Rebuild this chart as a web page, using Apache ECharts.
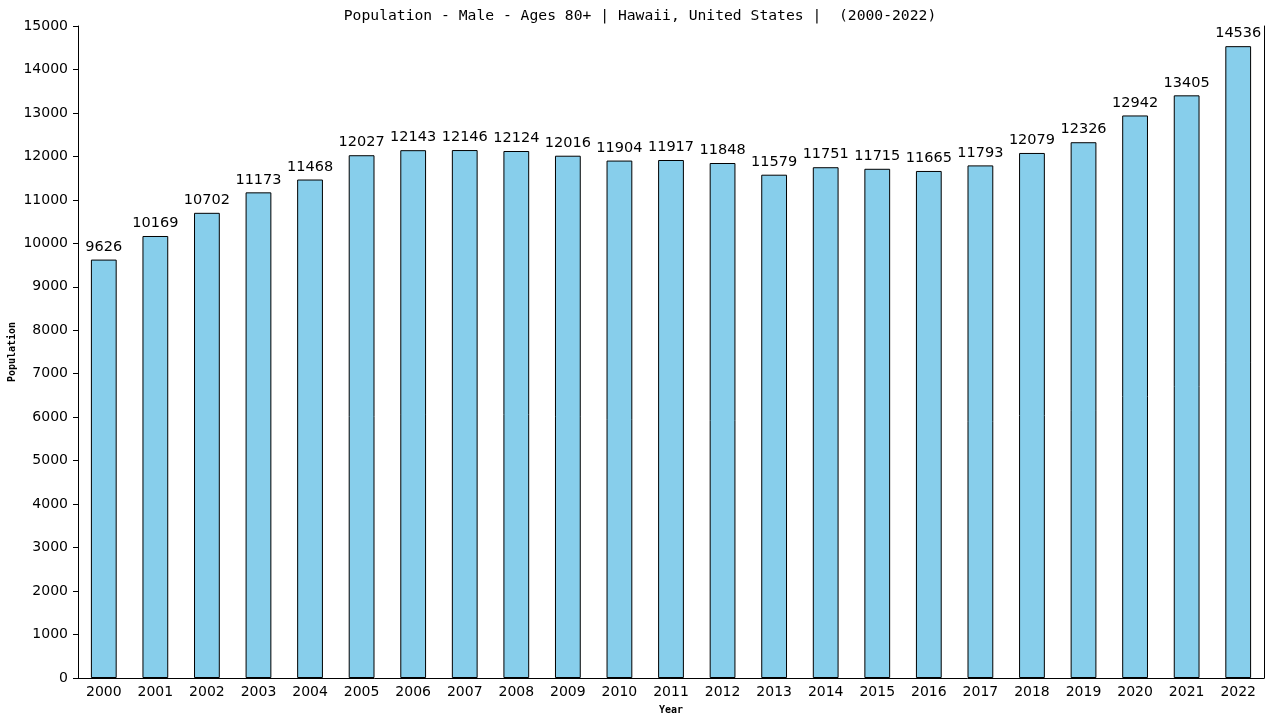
<!DOCTYPE html>
<html>
<head>
<meta charset="utf-8">
<script src="https://cdn.jsdelivr.net/npm/echarts@6/dist/echarts.min.js"></script>
<style>
  html, body { margin: 0; padding: 0; background: #fff; }
  #chart { width: 1280px; height: 720px; }
</style>
</head>
<body>
<div id="chart"></div>
<script>
const years = ['2000', '2001', '2002', '2003', '2004', '2005', '2006', '2007', '2008', '2009', '2010',
  '2011', '2012', '2013', '2014', '2015', '2016', '2017', '2018', '2019', '2020', '2021', '2022'];
const population = [9626, 10169, 10702, 11173, 11468, 12027, 12143, 12146, 12124, 12016, 11904,
  11917, 11848, 11579, 11751, 11715, 11665, 11793, 12079, 12326, 12942, 13405, 14536];

const chart = echarts.init(document.getElementById('chart'));

chart.setOption({
  animation: false,
  title: {
    text: 'Population - Male - Ages 80+ | Hawaii, United States |  (2000-2022)',
    left: 'center',
    top: 4,
    textStyle: { fontFamily: 'DejaVu Sans Mono', fontSize: 14.7, fontWeight: 'normal', color: '#000' }
  },
  grid: { left: 78, right: 16, top: 26, bottom: 42, outerBoundsMode: 'none' },
  xAxis: {
    type: 'category',
    data: years,
    name: 'Year',
    nameLocation: 'middle',
    nameGap: 27,
    nameMoveOverlap: false,
    nameTextStyle: { fontFamily: 'DejaVu Sans Mono', fontSize: 10, fontWeight: 'bold', color: '#000' },
    axisLine: { lineStyle: { color: '#000', width: 1 } },
    axisTick: { show: false },
    axisLabel: { fontFamily: 'DejaVu Sans', fontSize: 14, color: '#000', margin: 7 }
  },
  yAxis: [{
    type: 'value',
    min: 0,
    max: 15000,
    interval: 1000,
    name: 'Population',
    nameLocation: 'middle',
    nameGap: 61,
    nameMoveOverlap: false,
    nameTextStyle: { fontFamily: 'DejaVu Sans Mono', fontSize: 10, fontWeight: 'bold', color: '#000' },
    axisLine: { show: true, lineStyle: { color: '#000', width: 1 } },
    axisTick: { show: true, length: 5, lineStyle: { color: '#000' } },
    axisLabel: { fontFamily: 'DejaVu Sans', fontSize: 14, color: '#000', margin: 10, formatter: v => String(v) },
    splitLine: { show: false }
  }, {
    type: 'value',
    position: 'right',
    min: 0,
    max: 15000,
    interval: 1000,
    axisLine: { show: true, lineStyle: { color: '#000', width: 1 } },
    axisTick: { show: false },
    axisLabel: { show: false },
    splitLine: { show: false }
  }],
  series: [{
    type: 'bar',
    data: population,
    barWidth: '50%',
    itemStyle: { color: '#87CEEB', borderColor: '#000', borderWidth: 1 },
    label: {
      show: true,
      position: 'top',
      distance: 5,
      fontFamily: 'DejaVu Sans',
      fontSize: 14.5,
      color: '#000'
    }
  }]
});
</script>
</body>
</html>
